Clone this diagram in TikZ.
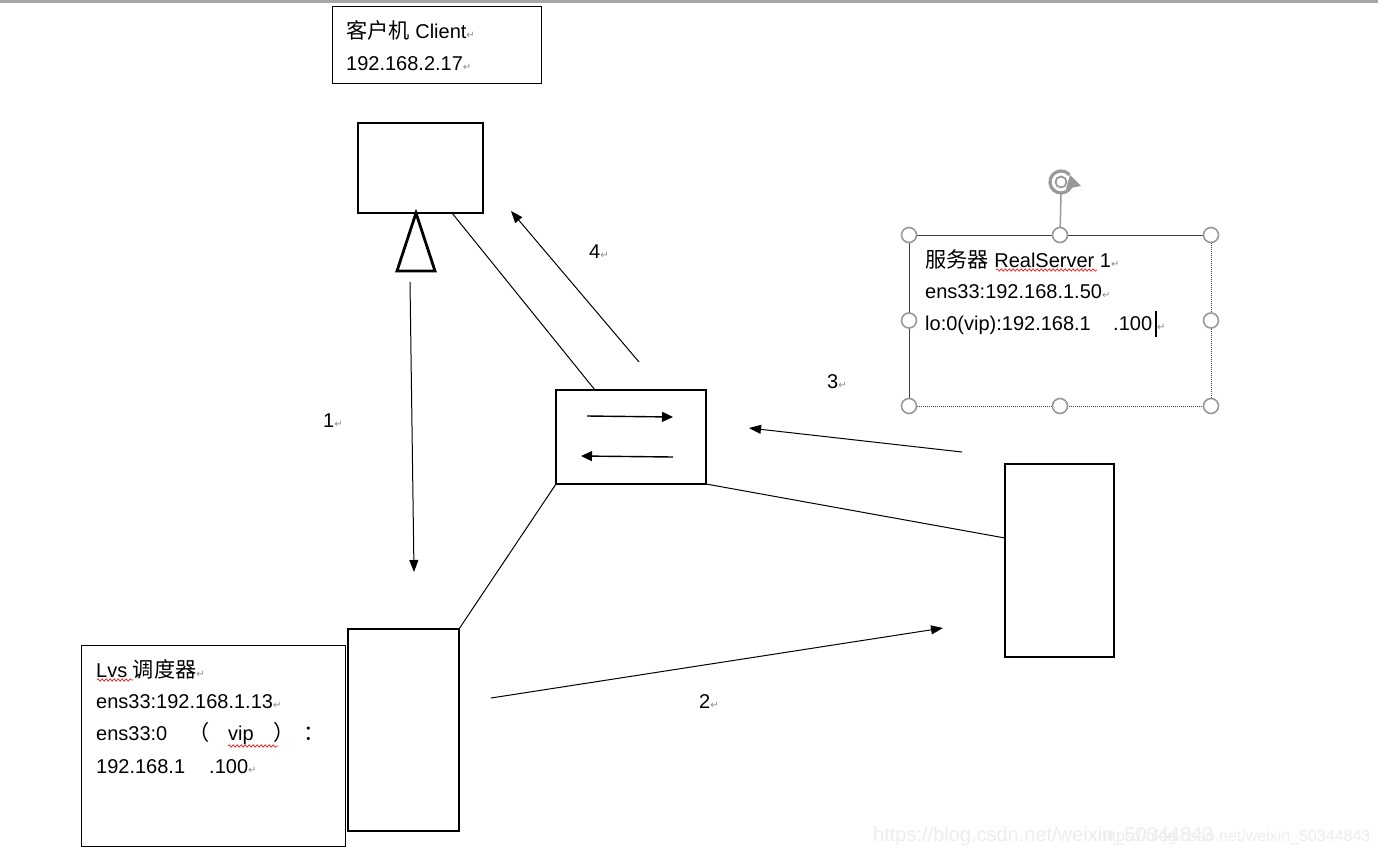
\documentclass[tikz,border=0pt]{standalone}
\usepackage{fontspec}
\setmainfont{Liberation Sans}
\newfontfamily\cjk{Noto Sans CJK SC}[Scale=1.06]
\newfontfamily\dvs{DejaVu Sans}
\usetikzlibrary{arrows.meta,decorations.pathmorphing}
\newcommand\ret{{\dvs\fontsize{10}{10}\selectfont\color{black!45}↵}}
\begin{document}
\begin{tikzpicture}[x=1pt,y=-1pt,
  box/.style={draw,line width=2.8pt,inner sep=0pt,outer sep=0pt},
  tbox/.style={draw,line width=1pt,inner sep=0pt,outer sep=0pt},
  conn/.style={line width=1pt},
  arr/.style={line width=1pt,-{Triangle[length=12pt,width=9pt]}},
  sarr/.style={line width=1.4pt,-{Triangle[length=11pt,width=10pt]}},
  txt/.style={anchor=base west,inner sep=0pt,font=\fontsize{20}{20}\selectfont},
  wm/.style={anchor=base west,inner sep=0pt,text=black!7},
  wavy/.style={red,line width=0.6pt,decorate,decoration={snake,amplitude=1.2pt,segment length=4pt}},
  handle/.style={circle,draw=black!40,fill=white,line width=1.6pt,minimum size=15pt,inner sep=0pt}
]
\fill[white] (0,0) rectangle (1378,852);
\useasboundingbox (0,0) rectangle (1378,852);
\fill[black!35] (0,0) rectangle (1378,3);

% watermark
\node[wm,font=\fontsize{20}{20}\selectfont] (wm1) at (873,841) {https://blog.csdn.net/weixin\_50344843};
\node[wm,font=\fontsize{16}{16}\selectfont] (wm2) at (1098,841) {https://blog.csdn.net/weixin\_50344843};

% boxes
\node[tbox,minimum width=209pt,minimum height=77pt] (ctxt) at (436.5,44.5) {};
\node[box,minimum width=125pt,minimum height=90pt] (client) at (420.5,168) {};
\node[box,minimum width=150pt,minimum height=94pt] (switch) at (631,437) {};
\node[box,minimum width=109pt,minimum height=193pt] (rs) at (1059.5,560.5) {};
\node[box,minimum width=111pt,minimum height=202pt] (lvs) at (403.5,730) {};
\node[tbox,minimum width=264pt,minimum height=201pt] (ltxt) at (213,745.5) {};
\node[inner sep=0pt,outer sep=0pt,minimum width=302pt,minimum height=171pt] (rtxt) at (1060,320.5) {};

% triangle stand
\draw[line width=2.8pt,line join=miter] (416,213) -- (435,271) -- (397,271) -- cycle;

% connectors
\coordinate (cA) at (452,213);
\coordinate (sA) at (595,390);
\coordinate (rsL) at (1005,538);
\draw[conn] (cA) -- (sA);
\draw[conn] (switch.south west) -- (lvs.north east);
\draw[conn] (switch.south east) -- (rsL);

% flow arrows
\coordinate (a1s) at (410,282); \coordinate (a1e) at (414,572);
\coordinate (a2s) at (491,698); \coordinate (a2e) at (943,628);
\coordinate (a3s) at (962,452); \coordinate (a3e) at (749,428);
\coordinate (a4s) at (639,362); \coordinate (a4e) at (511,211);
\draw[arr] (a1s) -- (a1e);
\draw[arr] (a2s) -- (a2e);
\draw[arr] (a3s) -- (a3e);
\draw[arr] (a4s) -- (a4e);
\coordinate (s1s) at (587,416); \coordinate (s1e) at (673,417);
\coordinate (s2s) at (673,457); \coordinate (s2e) at (581,456);
\draw[sarr] (s1s) -- (s1e);
\draw[sarr] (s2s) -- (s2e);

% labels
\node[txt] (l1) at (323,427) {1\ret};
\node[txt] (l2) at (699,708) {2\ret};
\node[txt] (l3) at (827,388) {3\ret};
\node[txt] (l4) at (589,258) {4\ret};

% client text
\node[txt] (ct1) at (346,38) {{\cjk 客户机} Client\ret};
\node[txt] (ct2) at (346,70) {192.168.2.17\ret};

% lvs text
\node[txt] (lt1) at (96,677) {Lvs {\cjk 调度器}\ret};
\node[txt] (lt2) at (96,708) {ens33:192.168.1.13\ret};
\node[txt] (lt3a) at (96,740) {ens33:0};
\node[txt] (lt3b) at (188,740) {\cjk （};
\node[txt] (lt3c) at (228,740) {vip};
\node[txt] (lt3d) at (273,740) {\cjk ）};
\node[txt] (lt3e) at (303,740) {\cjk ：};
\node[txt] (lt4a) at (96,773) {192.168.1};
\node[txt] (lt4b) at (209,773) {.100\ret};
\draw[wavy] (97,680) -- (133,680);
\draw[wavy] (228,746) -- (278,746);

% real server text box (selected)
\draw[black!75,line width=1pt] (rtxt.south west) -- (rtxt.north west) -- (rtxt.north east);
\draw[black!75,line width=1pt,densely dotted] (rtxt.north east) -- (rtxt.south east) -- (rtxt.south west);
\node[txt] (rt1) at (925,267) {{\cjk 服务器} RealServer 1\ret};
\node[txt] (rt2) at (925,298) {ens33:192.168.1.50\ret};
\node[txt] (rt3a) at (925,330) {lo:0(vip):192.168.1};
\node[txt] (rt3b) at (1113,330) {.100};
\draw[line width=1.1pt] (1156,311) -- (1156,337);
\node[anchor=base west,inner sep=0pt] (rt3c) at (1157,330) {\ret};
\draw[wavy] (996,270) -- (1097,270);

% rotation handle
\coordinate (rot) at (1061,182);
\draw[black!40,line width=1.5pt] (1061,194) -- (rtxt.north);
\draw[black!40,line width=3.2pt] (rot) ++(20:11) arc[start angle=20,end angle=320,radius=11];
\draw[black!40,line width=1.8pt] (rot) circle (5.5);
\fill[black!40] (1070,175) -- (1081,186) -- (1066,189) -- cycle;

% selection handles
\foreach \a in {north west,north,north east,west,east,south west,south,south east}
  \node[handle] at (rtxt.\a) {};
\end{tikzpicture}
\end{document}
